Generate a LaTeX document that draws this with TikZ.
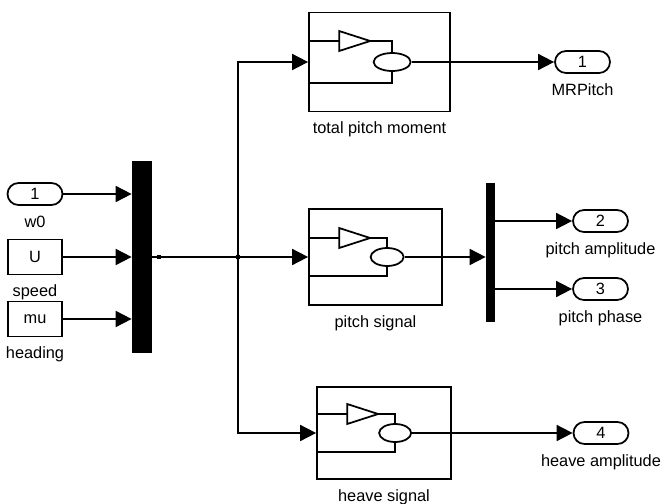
\documentclass[tikz,border=0pt]{standalone}
\usepackage{fontspec}
\setmainfont{Liberation Sans}
\usetikzlibrary{arrows.meta,positioning,shapes.misc,shapes.geometric}

\begin{document}
\begin{tikzpicture}[
  x=0.02cm, y=-0.02cm,
  font=\fontsize{9.3}{11}\selectfont,
  wire/.style={draw, line width=1pt},
  sig/.style={draw, line width=1pt, -{Triangle[length=0.32cm,width=0.32cm]}},
  port/.style={rounded rectangle, draw, line width=1pt, minimum width=1.1cm, minimum height=0.44cm, inner sep=0pt},
  constblk/.style={rectangle, draw, line width=1pt, minimum width=1.08cm, minimum height=0.7cm, inner sep=0pt},
  bar/.style={rectangle, fill=black, inner sep=0pt},
  subsys/.style={rectangle, draw, line width=1pt, inner sep=0pt},
  lbl/.style={inner sep=0pt, text height=0.72em, text depth=0.21em},
  node distance=0.17cm
]
\useasboundingbox (0,0) rectangle (667,504);

% sources
\node[port] (in1) at (35,194) {1};
\node[lbl, below=of in1] (in1lbl) {w0};
\node[constblk] (cspeed) at (35,257) {U};
\node[lbl, below=of cspeed] (cspeedlbl) {speed};
\node[constblk] (chead) at (35,319) {mu};
\node[lbl, below=of chead] (cheadlbl) {heading};

% mux
\node[bar, minimum width=0.4cm, minimum height=3.86cm] (mux) at (142,257) {};
\draw[sig] (in1.east) -- (in1.east -| mux.west);
\draw[sig] (cspeed.east) -- (cspeed.east -| mux.west);
\draw[sig] (chead.east) -- (chead.east -| mux.west);
\node[bar, minimum size=0.09cm] (muxport) at (159,257) {};

% subsystems
\node[subsys, minimum width=2.82cm, minimum height=1.98cm] (tpm) at (379.5,62) {};
\node[lbl, below=of tpm] (tpmlbl) {total pitch moment};
\node[subsys, minimum width=2.66cm, minimum height=1.92cm] (ps) at (375.5,257) {};
\node[lbl, below=of ps] (pslbl) {pitch signal};
\node[subsys, minimum width=2.68cm, minimum height=1.84cm] (hs) at (384,433) {};
\node[lbl, below=of hs] (hslbl) {heave signal};

\foreach \blk/\dy/\ex/\ew in {tpm/21/84/0.74cm, ps/19/79/0.66cm, hs/19/79/0.64cm}{
  \draw[wire] ([shift={(0,-\dy)}]\blk.west) -- ++(31,0);
  \draw[wire] ([shift={(31,-\dy-10)}]\blk.west) -- ++(31,10) -- ++(-31,10) -- cycle;
  \node[draw, ellipse, line width=1pt, minimum width=\ew, minimum height=0.36cm, inner sep=0pt] (\blk-sum) at ([shift={(\ex,0)}]\blk.west) {};
  \draw[wire] ([shift={(62,-\dy)}]\blk.west) -| (\blk-sum.north);
  \draw[wire] ([shift={(0,\dy)}]\blk.west) -| (\blk-sum.south);
}

% branch
\coordinate (split) at (238,257);
\draw[wire] (mux.east) -- (split);
\fill (split) circle (0.05cm);
\draw[sig] (split) |- (tpm.west);
\draw[sig] (split) -- (ps.west);
\draw[sig] (split) |- (hs.west);

% demux
\node[bar, minimum width=0.18cm, minimum height=2.78cm] (demux) at (490.5,252.5) {};
\draw[sig] (ps-sum.east) -- (ps-sum.east -| demux.west);

% outputs
\node[port] (out1) at (582.5,62) {1};
\node[lbl, below=of out1] (out1lbl) {MRPitch};
\node[port] (out2) at (600.5,221) {2};
\node[lbl, below=of out2] (out2lbl) {pitch amplitude};
\node[port] (out3) at (600.5,289) {3};
\node[lbl, below=of out3] (out3lbl) {pitch phase};
\node[port] (out4) at (601,433) {4};
\node[lbl, below=of out4] (out4lbl) {heave amplitude};

\draw[sig] (tpm-sum.east) -- (out1.west);
\draw[sig] (demux.east |- out2.west) -- (out2.west);
\draw[sig] (demux.east |- out3.west) -- (out3.west);
\draw[sig] (hs-sum.east) -- (out4.west);
\end{tikzpicture}
\end{document}
